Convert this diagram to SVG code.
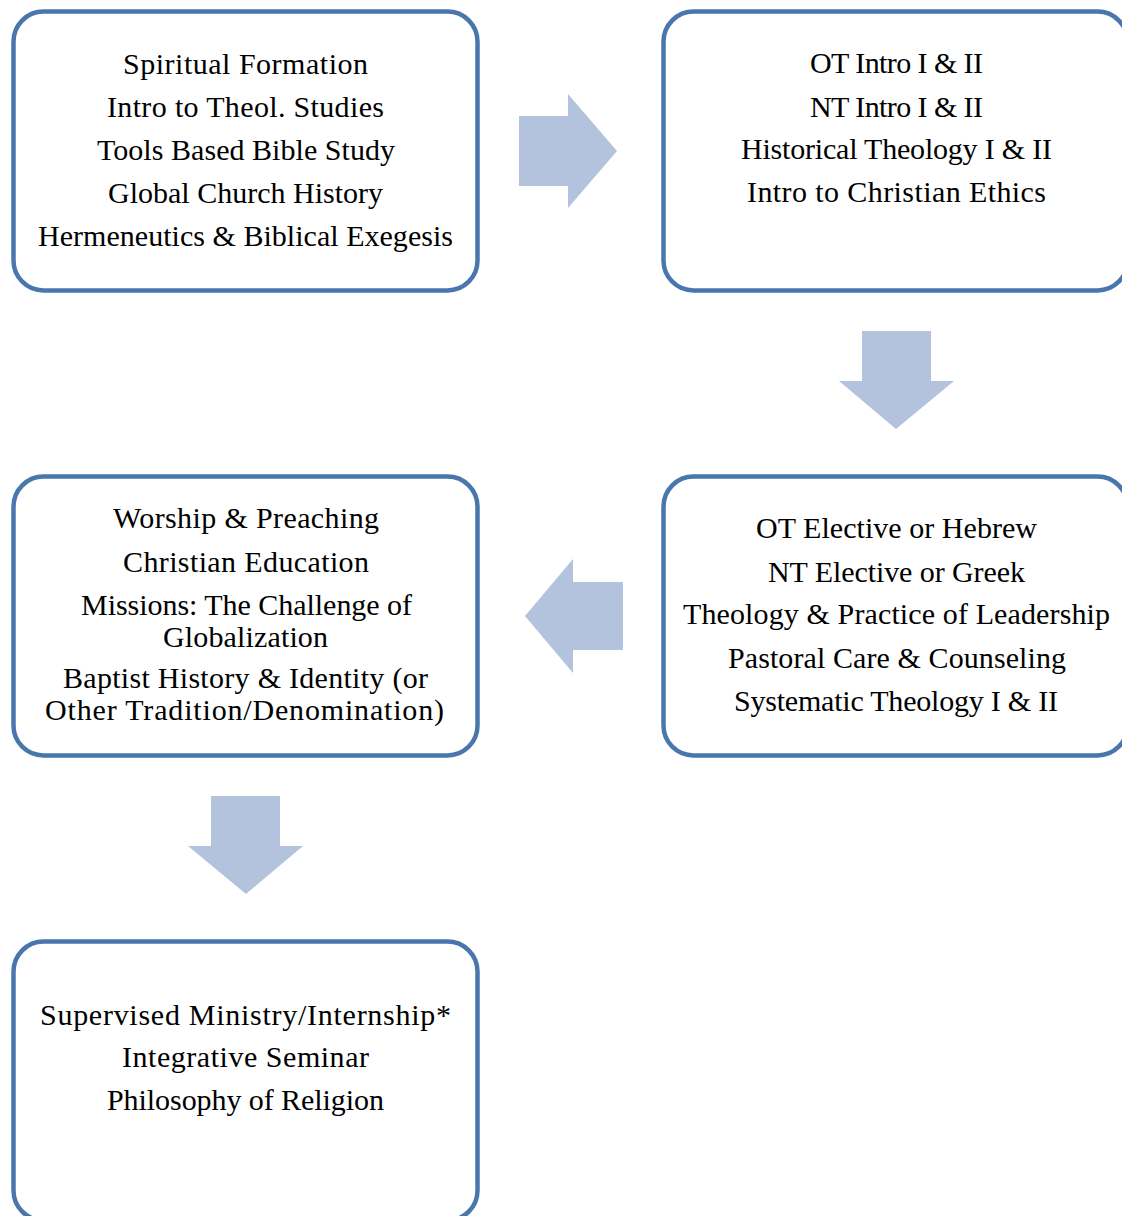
<svg xmlns="http://www.w3.org/2000/svg" width="1122" height="1216" viewBox="0 0 1122 1216">
<style>
.box{fill:#ffffff;stroke:#4a76ae;stroke-width:4.5}
.arrow{fill:#b3c3de;stroke:none}
text{font-family:"Liberation Serif","Times New Roman",serif;font-size:30px;fill:#000000;text-anchor:middle}
</style>
<rect width="1122" height="1216" fill="#ffffff"/>
<g id="node1">
<rect class="box" x="13.5" y="11.5" width="464" height="279" rx="30" ry="30"/>
<text x="245.5" y="74" textLength="245" lengthAdjust="spacing">Spiritual Formation</text>
<text x="245.5" y="117" textLength="277" lengthAdjust="spacing">Intro to Theol. Studies</text>
<text x="246" y="160" textLength="298" lengthAdjust="spacing">Tools Based Bible Study</text>
<text x="245.5" y="203" textLength="275" lengthAdjust="spacing">Global Church History</text>
<text x="245.5" y="246" textLength="415" lengthAdjust="spacing">Hermeneutics &amp; Biblical Exegesis</text>
</g>
<g id="node2">
<rect class="box" x="663.5" y="11.5" width="464" height="279" rx="30" ry="30"/>
<text x="896.5" y="73" textLength="173" lengthAdjust="spacing">OT Intro I &amp; II</text>
<text x="896.5" y="117" textLength="173" lengthAdjust="spacing">NT Intro I &amp; II</text>
<text x="896.5" y="159" textLength="311" lengthAdjust="spacing">Historical Theology I &amp; II</text>
<text x="896.5" y="202" textLength="299" lengthAdjust="spacing">Intro to Christian Ethics</text>
</g>
<g id="node3">
<rect class="box" x="663.5" y="476.5" width="464" height="279" rx="30" ry="30"/>
<text x="896.5" y="538" textLength="281" lengthAdjust="spacing">OT Elective or Hebrew</text>
<text x="896.5" y="582" textLength="257" lengthAdjust="spacing">NT Elective or Greek</text>
<text x="896.5" y="624" textLength="427" lengthAdjust="spacing">Theology &amp; Practice of Leadership</text>
<text x="897" y="668" textLength="338" lengthAdjust="spacing">Pastoral Care &amp; Counseling</text>
<text x="896" y="711" textLength="324" lengthAdjust="spacing">Systematic Theology I &amp; II</text>
</g>
<g id="node4">
<rect class="box" x="13.5" y="476.5" width="464" height="279" rx="30" ry="30"/>
<text x="246" y="528" textLength="266" lengthAdjust="spacing">Worship &amp; Preaching</text>
<text x="246" y="572" textLength="246" lengthAdjust="spacing">Christian Education</text>
<text x="246.5" y="615" textLength="331" lengthAdjust="spacing">Missions: The Challenge of</text>
<text x="245.5" y="647" textLength="165" lengthAdjust="spacing">Globalization</text>
<text x="245.5" y="688" textLength="365" lengthAdjust="spacing">Baptist History &amp; Identity (or</text>
<text x="244.5" y="720" textLength="399" lengthAdjust="spacing">Other Tradition/Denomination)</text>
</g>
<g id="node5">
<rect class="box" x="13.5" y="941.5" width="464" height="279" rx="30" ry="30"/>
<text x="245.5" y="1025" textLength="411" lengthAdjust="spacing">Supervised Ministry/Internship*</text>
<text x="245.5" y="1067" textLength="247" lengthAdjust="spacing">Integrative Seminar</text>
<text x="245.5" y="1110" textLength="277" lengthAdjust="spacing">Philosophy of Religion</text>
</g>
<g id="connectors">
<polygon class="arrow" points="519,116 568,116 568,94 617,151 568,208 568,186 519,186"/>
<polygon class="arrow" points="862,331 931,331 931,381 954,381 896,429 839,381 862,381"/>
<polygon class="arrow" points="623,582 573,582 573,559 525,616 573,673 573,650 623,650"/>
<polygon class="arrow" points="211,796 280,796 280,846 303,846 246,894 188,846 211,846"/>
</g>
</svg>
